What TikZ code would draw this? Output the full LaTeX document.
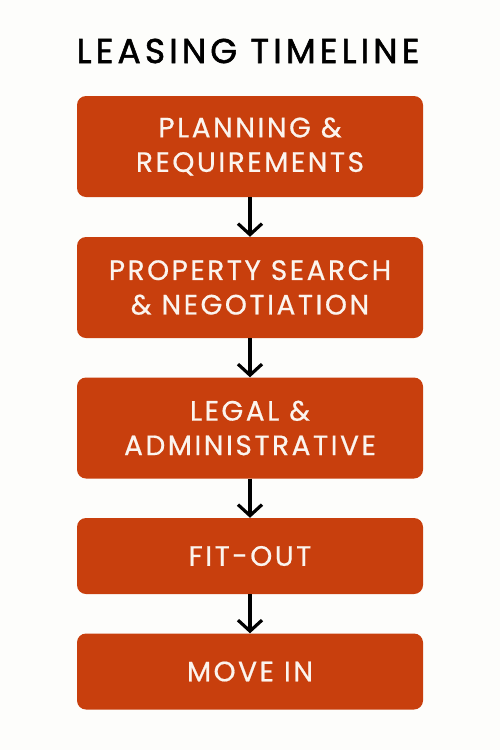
\documentclass[tikz,border=0pt]{standalone}
\usepackage{fontspec}
\setmainfont{Poppins}
\newfontfamily\boxfont{Poppins}[LetterSpace=9,FakeBold=0.6]
\newfontfamily\titlefont{Poppins}[LetterSpace=12,FakeBold=1.6]
\usetikzlibrary{arrows.meta}
\definecolor{boxred}{HTML}{C83F0D}
\definecolor{bg}{HTML}{FDFDFB}
\definecolor{txt}{HTML}{FBF4EE}
\tikzset{
  stage/.style={draw=none, fill=boxred, rounded corners=9pt, minimum width=346pt,
    text=txt, align=center, font=\boxfont\fontsize{28}{34.5}\selectfont, inner sep=0pt},
  flow/.style={line width=3.2pt, draw=black, -{Straight Barb[length=11pt,width=24pt,line width=3.2pt]}}
}
\begin{document}
\begin{tikzpicture}[x=1pt,y=-1pt]
\fill[bg] (0,0) rectangle (500,750);
\useasboundingbox (0,0) rectangle (500,750);
\node[font=\titlefont\fontsize{34.5}{40}\selectfont, text=black] (title) at (248,51) {LEASING TIMELINE};
\node[stage, minimum height=101pt] (s1) at (250,146.5) {PLANNING \&\\REQUIREMENTS};
\node[stage, minimum height=101pt] (s2) at (250,287.5) {PROPERTY SEARCH\\\& NEGOTIATION};
\node[stage, minimum height=101pt] (s3) at (250,428) {LEGAL \&\\ADMINISTRATIVE};
\node[stage, minimum height=76pt] (s4) at (250,556) {FIT-OUT};
\node[stage, minimum height=76pt] (s5) at (250,671.5) {MOVE IN};
\draw[flow] (s1.south) -- (s2.north);
\draw[flow] (s2.south) -- (s3.north);
\draw[flow] (s3.south) -- (s4.north);
\draw[flow] (s4.south) -- (s5.north);
\end{tikzpicture}
\end{document}
